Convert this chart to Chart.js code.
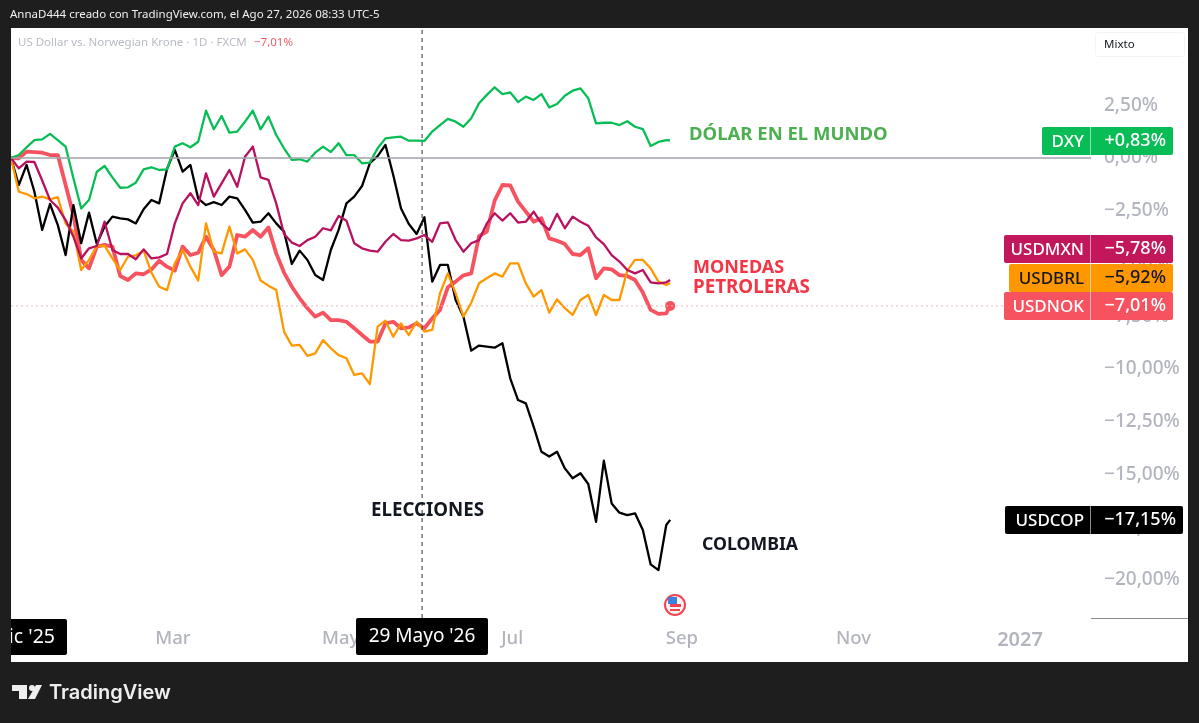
<!DOCTYPE html>
<html>
<head>
<meta charset="utf-8">
<title>USD vs monedas</title>
<script src="https://cdn.jsdelivr.net/npm/chart.js@4/dist/chart.umd.js"></script>
<style>
html,body{margin:0;padding:0;background:#1e1e1e;}
canvas{display:block;}
</style>
</head>
<body>
<canvas id="grafico" width="1199" height="723"></canvas>
<script>
// sesiones de mercado desde el inicio de la serie (cada 2 sesiones)
const sesiones = [0,2,4,6,8,10,12,14,16,18,20,22,24,26,28,30,32,34,36,38,40,42,44,46,48,50,52,54,56,58,60,62,64,66,68,70,72,74,76,78,80,82,84,86,88,90,92,94,96,98,100,102,104,106,108,110,112,114,116,118,120,122,124,126,128,130,132,134,136,138,140,142,144,146,148,150,152,154,156,158,160,162,164,166,168,169];

const dxy = [0,0.14,0.51,0.85,0.88,1.14,0.85,0.54,-0.96,-2.39,-1.99,-0.65,-0.38,-0.92,-1.41,-1.39,-1.17,-0.54,-0.44,-0.57,-0.54,0.54,0.70,0.51,0.77,2.24,1.36,1.99,1.20,1.25,1.72,2.24,1.36,1.96,1.09,0.46,-0.09,-0.06,-0.17,0.25,0.54,0.28,0.70,0.14,
  0.14,-0.25,-0.22,0.46,0.93,0.98,1.01,0.82,0.82,0.81,1.25,1.56,1.85,1.72,1.48,1.88,2.59,2.99,3.35,3.03,3.11,2.65,2.91,2.75,3.03,2.40,2.56,2.95,3.19,3.30,2.83,1.64,1.67,1.67,1.56,1.74,1.48,1.37,0.57,0.76,0.85,0.83];

const usdmxn = [0,-0.49,-0.17,-0.19,-1.07,-1.99,-2.35,-2.94,-3.73,-4.76,-4.28,-4.17,-3.02,-4.36,-4.55,-4.55,-4.80,-4.33,-4.76,-4.71,-4.55,-3.10,-2.15,-1.67,-2.23,-0.73,-1.83,-1.20,-0.57,-1.36,0.06,0.54,-0.92,-1.04,-2.15,-3.60,-4.01,-4.17,-3.89,-3.73,-3.33,-3.43,-2.75,-2.97,
  -4.04,-4.28,-4.39,-4.44,-3.97,-3.60,-3.89,-3.92,-3.81,-3.65,-3.97,-3.10,-3.05,-3.89,-4.44,-4.04,-3.89,-3.10,-2.62,-2.97,-2.62,-3.06,-3.02,-2.54,-3.10,-3.41,-2.65,-3.33,-2.78,-3.02,-3.21,-3.76,-4.08,-4.60,-4.91,-5.31,-5.47,-5.31,-5.89,-5.94,-5.89,-5.78];

const usdbrl = [0,-1.60,-1.71,-1.91,-1.83,-1.96,-1.86,-3.10,-3.49,-5.31,-4.83,-4.17,-4.17,-4.76,-5.31,-4.68,-4.61,-4.39,-5.43,-6.10,-6.26,-4.99,-4.36,-5.15,-5.81,-3.10,-4.44,-4.52,-3.25,-4.52,-4.33,-4.83,-5.81,-6.05,-6.26,-8.23,-8.89,-8.86,-9.38,-9.26,-8.63,-9.02,-9.34,-9.49,
  -10.28,-10.21,-10.71,-7.99,-7.71,-8.47,-7.84,-8.39,-7.76,-8.23,-8.15,-6.41,-5.47,-6.41,-7.52,-6.86,-5.94,-5.70,-5.47,-5.62,-4.99,-4.99,-5.94,-6.57,-6.26,-7.33,-6.70,-7.12,-7.44,-6.73,-6.49,-7.44,-6.49,-6.73,-6.73,-5.34,-4.83,-4.83,-5.23,-5.86,-6.02,-5.92];

const usdcop = [0,-1.28,-0.33,-1.60,-3.41,-2.18,-3.18,-4.60,-2.23,-4.04,-2.59,-4.08,-3.25,-2.78,-2.86,-2.91,-3.10,-2.43,-1.99,-2.15,-0.52,0.38,-0.65,-0.33,-1.93,-2.23,-2.09,-2.23,-1.83,-1.91,-2.46,-3.06,-3.02,-2.62,-3.10,-3.49,-5.02,-4.39,-4.83,-5.55,-5.78,-4.36,-3.41,-2.15,
  -1.83,-1.33,-0.25,0.09,0.62,-0.81,-2.39,-3.13,-3.60,-2.81,-5.86,-5.07,-5.07,-6.73,-7.52,-9.13,-8.89,-8.94,-8.99,-8.78,-10.44,-11.47,-11.63,-12.73,-13.92,-14.15,-13.92,-14.71,-15.18,-14.94,-15.45,-17.24,-14.34,-16.37,-16.81,-16.92,-16.84,-17.63,-19.26,-19.53,-17.39,-17.15];

const usdnok = [0,-0.02,0.30,0.28,0.25,0.14,0.14,-1.28,-2.70,-4.83,-5.23,-4.20,-4.12,-4.20,-5.59,-5.78,-5.47,-5.51,-5.28,-4.87,-5.15,-5.34,-4.20,-4.60,-4.49,-3.73,-4.36,-5.55,-5.15,-3.65,-3.73,-3.41,-3.73,-3.29,-4.52,-5.43,-6.10,-6.65,-7.12,-7.52,-7.33,-7.68,-7.68,-7.76,
  -8.07,-8.39,-8.70,-8.70,-7.84,-7.76,-8.07,-8.03,-7.84,-8.07,-7.60,-7.20,-6.13,-5.86,-5.56,-5.47,-3.70,-3.49,-2.02,-1.28,-1.30,-2.07,-2.54,-3.02,-2.86,-3.81,-3.92,-4.08,-4.55,-4.60,-4.28,-5.70,-5.23,-5.28,-5.55,-5.59,-5.78,-6.38,-7.20,-7.39,-7.36,-7.01];

// ejes
const marcasY = [2.5,0,-2.5,-5,-7.5,-10,-12.5,-15,-17.5,-20];
const marcasX = [41.5,84.5,128.5,172,216,258.7];
const etiquetasX = ["Mar","May","Jul","Sep","Nov","2027"];
const sesionElecciones = 105.4;

// etiquetas de la derecha
const tagNombres = ["DXY","USDMXN","USDBRL","USDNOK","USDCOP"];
const tagValores = ["+0,83%","−5,78%","−5,92%","−7,01%","−17,15%"];

const fuente = '"Noto Sans", sans-serif';
const gris = "#b2b5be";

function puntos(vals){
  return vals.map((v,i)=>({x:sesiones[i],y:v}));
}

function porcentaje(v){
  const s = Math.abs(v).toFixed(2).replace(".",",")+"%";
  return v<0 ? "−"+s : s;
}

function caja(ctx,x,y,w,h,color){
  ctx.fillStyle = color;
  ctx.beginPath();
  ctx.roundRect(x,y,w,h,2);
  ctx.fill();
}

function texto(ctx,str,x,y,font,color,align){
  ctx.font = font;
  ctx.fillStyle = color;
  ctx.textAlign = align || "left";
  ctx.textBaseline = "middle";
  ctx.fillText(str,x,y);
}

const fondo = {
  id:"fondo",
  beforeDraw(chart){
    const ctx = chart.ctx;
    ctx.save();
    ctx.fillStyle = "#1e1e1e";
    ctx.fillRect(0,0,1199,723);
    ctx.fillStyle = "#ffffff";
    ctx.fillRect(11,28,1177,634);
    ctx.fillStyle = "#8a8d96";
    ctx.fillRect(1091,618,97,1);
    ctx.restore();
  }
};

function tag(ctx,i,xIzq,xDer,yTop,color,colorTexto){
  caja(ctx,xIzq,yTop,xDer-xIzq,28,color);
  ctx.fillStyle = "rgba(255,255,255,0.55)";
  ctx.fillRect(1090,yTop,1,28);
  texto(ctx,tagNombres[i],1084,yTop+15,"500 17px "+fuente,colorTexto,"right");
  texto(ctx,tagValores[i],xDer-7,yTop+14,"500 18px "+fuente,colorTexto,"right");
}

const rotulos = {
  id:"rotulos",
  afterDraw(chart){
    const ctx = chart.ctx;
    ctx.save();

    // cabecera
    texto(ctx,"AnnaD444 creado con TradingView.com, el Ago 27, 2026 08:33 UTC-5",10,15,"11.5px "+fuente,"#f0f0f0");
    texto(ctx,"US Dollar vs. Norwegian Krone · 1D · FXCM",18,43,"11.5px "+fuente,"#b8bbc4");
    texto(ctx,"−7,01%",254,43,"11.5px "+fuente,"#ee5f6b");
    ctx.strokeStyle = "#f3f4f7";
    ctx.lineWidth = 1;
    ctx.beginPath();
    ctx.roundRect(1095.5,32.5,89,24,3);
    ctx.stroke();
    texto(ctx,"Mixto",1104,44.5,"11.5px "+fuente,"#131722");

    // anotaciones
    texto(ctx,"DÓLAR EN EL MUNDO",689,135,"bold 18.5px "+fuente,"#4caf50");
    texto(ctx,"MONEDAS",693,268,"bold 18px "+fuente,"#f23645");
    texto(ctx,"PETROLERAS",693,288,"bold 18.8px "+fuente,"#f23645");
    texto(ctx,"ELECCIONES",371,511,"bold 18.7px "+fuente,"#131722");
    texto(ctx,"COLOMBIA",702,545,"bold 17.7px "+fuente,"#131722");

    // etiquetas de precio
    tag(ctx,0,1042,1173,127,"#08bd55","#ffffff");
    tag(ctx,1,1004,1173,235,"#c2185b","#ffffff");
    tag(ctx,2,1009,1173,264,"#ff9800","#131722");
    tag(ctx,3,1004,1173,292,"#f7525f","#ffffff");
    tag(ctx,4,1005,1183,506,"#000000","#ffffff");

    // cajas de fecha
    ctx.save();
    ctx.beginPath();
    ctx.rect(11,600,1177,62);
    ctx.clip();
    caja(ctx,-5,619,72,36,"#000000");
    texto(ctx,"Dic '25",55,637,"19.5px "+fuente,"#ffffff","right");
    ctx.restore();
    caja(ctx,356,618,132,37,"#000000");
    texto(ctx,"29 Mayo '26",422,637,"19px "+fuente,"#ffffff","center");

    // evento EEUU
    ctx.strokeStyle = "#ef4550";
    ctx.lineWidth = 2;
    ctx.fillStyle = "#f6f6f8";
    ctx.beginPath();
    ctx.arc(675,605,10,0,Math.PI*2);
    ctx.fill();
    ctx.stroke();
    ctx.fillStyle = "#ef4550";
    ctx.fillRect(670,604,11,3);
    ctx.fillRect(670,609,10,2);
    ctx.fillStyle = "#3b82e0";
    ctx.fillRect(668,597,9,7);

    // logo
    ctx.fillStyle = "#eeeeee";
    ctx.fillRect(12,685,15,6);
    ctx.fillRect(19,685,8,14);
    ctx.beginPath();
    ctx.arc(32,688,3,0,Math.PI*2);
    ctx.fill();
    ctx.beginPath();
    ctx.moveTo(36,685);
    ctx.lineTo(42,685);
    ctx.lineTo(35,699);
    ctx.lineTo(28,699);
    ctx.closePath();
    ctx.fill();
    texto(ctx,"TradingView",49,693,"600 20px Inter, sans-serif","#eeeeee");

    ctx.restore();
  }
};

new Chart(document.getElementById("grafico").getContext("2d"),{
  type:"line",
  data:{
    datasets:[
      {data:[{x:0,y:0},{x:276.9,y:0}],borderColor:"#a0a3ab",borderWidth:1.5,pointRadius:0},
      {data:[{x:0,y:-7.01},{x:264,y:-7.01}],borderColor:"#f0b6bb",borderWidth:1,borderDash:[2,3],pointRadius:0},
      {data:[{x:sesionElecciones,y:-21.8},{x:sesionElecciones,y:6.16}],borderColor:"#333333",borderWidth:1,borderDash:[4,4],pointRadius:0},
      {label:"DXY",data:puntos(dxy),borderColor:"#08bd55",borderWidth:2.3,pointRadius:0},
      {label:"USDMXN",data:puntos(usdmxn),borderColor:"#b8125f",borderWidth:2.3,pointRadius:0},
      {label:"USDBRL",data:puntos(usdbrl),borderColor:"#ff9800",borderWidth:2.3,pointRadius:0},
      {label:"USDCOP",data:puntos(usdcop),borderColor:"#000000",borderWidth:2.3,pointRadius:0},
      {label:"USDNOK",data:puntos(usdnok),borderColor:"#f7525f",borderWidth:3.8,
        backgroundColor:"#f7525f",
        pointBackgroundColor:"#f7525f",pointBorderWidth:0,
        pointRadius:c=>c.dataIndex===sesiones.length-1?5:0}
    ]
  },
  options:{
    responsive:false,
    animation:false,
    devicePixelRatio:1,
    layout:{padding:{left:11,right:11,top:28,bottom:61}},
    plugins:{legend:{display:false},tooltip:{enabled:false}},
    elements:{line:{tension:0,borderJoinStyle:"round"}},
    scales:{
      x:{
        type:"linear",
        min:0,
        max:276.9,
        grid:{display:false},
        border:{display:false},
        afterBuildTicks:a=>{a.ticks = marcasX.map(v=>({value:v}));},
        afterFit:a=>{a.height = 44;},
        ticks:{
          autoSkip:false,
          maxRotation:0,
          padding:2,
          color:gris,
          font:c=>c.tick && c.tick.value===258.7
            ? {family:fuente,size:20,weight:"600"}
            : {family:fuente,size:18.5,weight:"500"},
          callback:v=>etiquetasX[marcasX.indexOf(v)]
        }
      },
      y:{
        position:"right",
        min:-21.8,
        max:6.16,
        grid:{display:false},
        border:{display:false},
        afterBuildTicks:a=>{a.ticks = marcasY.map(v=>({value:v}));},
        afterFit:a=>{a.width = 97;},
        ticks:{
          padding:5,
          color:gris,
          font:{family:fuente,size:19,weight:"500"},
          callback:v=>porcentaje(v)
        }
      }
    }
  },
  plugins:[fondo,rotulos]
});
</script>
</body>
</html>
